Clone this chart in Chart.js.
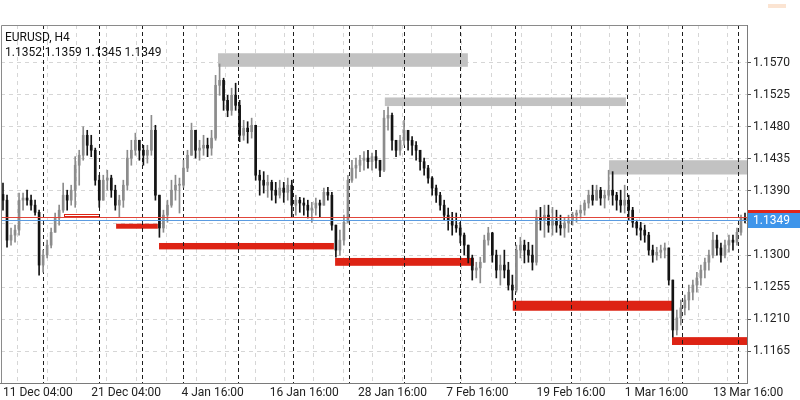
<!DOCTYPE html>
<html>
<head>
<meta charset="utf-8">
<title>EURUSD, H4</title>
<script src="https://cdn.jsdelivr.net/npm/chart.js@4.4.1/dist/chart.umd.min.js"></script>
<style>
  html, body { margin: 0; padding: 0; background: #fff; }
  #wrap { width: 800px; height: 400px; }
</style>
</head>
<body>
<div id="wrap"><canvas id="chart" width="800" height="400"></canvas></div>
<script>
var symbol = 'EURUSD, H4'

// H4 price bars (two H4 bars per entry)
var opens = [1.1385,
  1.1377, 1.1321, 1.1328, 1.1335, 1.1377, 1.1380, 1.1377, 1.1370, 1.1360, 1.1286,
  1.1300, 1.1314, 1.1332, 1.1352, 1.1363, 1.1384, 1.1377, 1.1391, 1.1426, 1.1440,
  1.1468, 1.1454, 1.1447, 1.1405, 1.1377, 1.1405, 1.1408, 1.1391, 1.1370, 1.1377,
  1.1398, 1.1436, 1.1447, 1.1461, 1.1447, 1.1440, 1.1447, 1.1475, 1.1384, 1.1338,
  1.1356, 1.1370, 1.1391, 1.1398, 1.1398, 1.1422, 1.1440, 1.1475, 1.1447, 1.1450,
  1.1454, 1.1450, 1.1464, 1.1538, 1.1545, 1.1517, 1.1503, 1.1524, 1.1510, 1.1468,
  1.1478, 1.1473, 1.1482, 1.1412, 1.1405, 1.1398, 1.1402, 1.1391, 1.1384, 1.1394,
  1.1388, 1.1398, 1.1370, 1.1377, 1.1373, 1.1370, 1.1363, 1.1366, 1.1373, 1.1370,
  1.1388, 1.1384, 1.1342, 1.1307, 1.1321, 1.1346, 1.1405, 1.1422, 1.1426, 1.1433,
  1.1436, 1.1431, 1.1438, 1.1433, 1.1419, 1.1492, 1.1496, 1.1461, 1.1447, 1.1461,
  1.1475, 1.1461, 1.1454, 1.1447, 1.1431, 1.1422, 1.1408, 1.1394, 1.1384, 1.1370,
  1.1356, 1.1349, 1.1342, 1.1338, 1.1328, 1.1314, 1.1296, 1.1279, 1.1282, 1.1290,
  1.1321, 1.1331, 1.1300, 1.1279, 1.1286, 1.1279, 1.1258, 1.1251, 1.1307, 1.1314,
  1.1307, 1.1300, 1.1290, 1.1352, 1.1349, 1.1356, 1.1342, 1.1349, 1.1342, 1.1338,
  1.1345, 1.1349, 1.1356, 1.1359, 1.1363, 1.1373, 1.1384, 1.1377, 1.1391, 1.1380,
  1.1384, 1.1391, 1.1384, 1.1377, 1.1370, 1.1377, 1.1363, 1.1346, 1.1338, 1.1335,
  1.1328, 1.1307, 1.1300, 1.1304, 1.1307, 1.1310, 1.1265, 1.1195, 1.1212, 1.1226,
  1.1237, 1.1248, 1.1258, 1.1268, 1.1279, 1.1290, 1.1300, 1.1321, 1.1310, 1.1300,
  1.1314, 1.1321, 1.1318, 1.1332, 1.1352]
var highs = [
  1.1401, 1.1384, 1.1338, 1.1342, 1.1387, 1.1387, 1.1391, 1.1384, 1.1377, 1.1363,
  1.1307, 1.1321, 1.1338, 1.1359, 1.1370, 1.1401, 1.1391, 1.1398, 1.1438, 1.1447,
  1.1480, 1.1475, 1.1468, 1.1450, 1.1412, 1.1412, 1.1419, 1.1412, 1.1398, 1.1384,
  1.1405, 1.1447, 1.1461, 1.1471, 1.1461, 1.1454, 1.1454, 1.1496, 1.1482, 1.1384,
  1.1363, 1.1377, 1.1405, 1.1412, 1.1408, 1.1433, 1.1447, 1.1485, 1.1475, 1.1461,
  1.1468, 1.1464, 1.1475, 1.1552, 1.1568, 1.1548, 1.1524, 1.1534, 1.1541, 1.1517,
  1.1489, 1.1487, 1.1492, 1.1482, 1.1419, 1.1417, 1.1412, 1.1405, 1.1402, 1.1405,
  1.1402, 1.1408, 1.1405, 1.1384, 1.1381, 1.1380, 1.1377, 1.1374, 1.1380, 1.1377,
  1.1394, 1.1395, 1.1388, 1.1342, 1.1335, 1.1356, 1.1412, 1.1433, 1.1436, 1.1440,
  1.1445, 1.1447, 1.1443, 1.1447, 1.1433, 1.1503, 1.1508, 1.1499, 1.1461, 1.1468,
  1.1489, 1.1475, 1.1466, 1.1459, 1.1443, 1.1436, 1.1426, 1.1410, 1.1398, 1.1388,
  1.1377, 1.1366, 1.1360, 1.1359, 1.1346, 1.1331, 1.1314, 1.1300, 1.1290, 1.1297,
  1.1328, 1.1339, 1.1332, 1.1307, 1.1300, 1.1307, 1.1290, 1.1272, 1.1314, 1.1325,
  1.1321, 1.1318, 1.1314, 1.1363, 1.1367, 1.1370, 1.1370, 1.1367, 1.1363, 1.1356,
  1.1352, 1.1356, 1.1360, 1.1363, 1.1370, 1.1377, 1.1391, 1.1398, 1.1398, 1.1395,
  1.1391, 1.1419, 1.1417, 1.1388, 1.1391, 1.1398, 1.1384, 1.1367, 1.1349, 1.1346,
  1.1342, 1.1332, 1.1314, 1.1311, 1.1314, 1.1317, 1.1310, 1.1265, 1.1223, 1.1237,
  1.1244, 1.1258, 1.1265, 1.1276, 1.1286, 1.1296, 1.1307, 1.1332, 1.1328, 1.1317,
  1.1321, 1.1328, 1.1328, 1.1338, 1.1356, 1.1359]
var lows = [
  1.1363, 1.1311, 1.1314, 1.1318, 1.1328, 1.1363, 1.1370, 1.1363, 1.1356, 1.1272,
  1.1276, 1.1296, 1.1310, 1.1332, 1.1342, 1.1360, 1.1363, 1.1370, 1.1367, 1.1398,
  1.1433, 1.1440, 1.1438, 1.1398, 1.1367, 1.1377, 1.1391, 1.1381, 1.1363, 1.1353,
  1.1367, 1.1391, 1.1426, 1.1440, 1.1433, 1.1426, 1.1429, 1.1440, 1.1377, 1.1325,
  1.1332, 1.1346, 1.1367, 1.1377, 1.1359, 1.1395, 1.1417, 1.1440, 1.1436, 1.1433,
  1.1440, 1.1438, 1.1440, 1.1461, 1.1524, 1.1503, 1.1494, 1.1496, 1.1503, 1.1459,
  1.1461, 1.1457, 1.1464, 1.1405, 1.1384, 1.1387, 1.1381, 1.1377, 1.1373, 1.1380,
  1.1374, 1.1377, 1.1353, 1.1356, 1.1360, 1.1356, 1.1352, 1.1346, 1.1356, 1.1353,
  1.1370, 1.1377, 1.1335, 1.1297, 1.1300, 1.1314, 1.1346, 1.1402, 1.1408, 1.1417,
  1.1419, 1.1422, 1.1419, 1.1422, 1.1410, 1.1417, 1.1475, 1.1447, 1.1438, 1.1440,
  1.1454, 1.1447, 1.1440, 1.1433, 1.1419, 1.1412, 1.1401, 1.1384, 1.1374, 1.1363,
  1.1349, 1.1335, 1.1328, 1.1332, 1.1317, 1.1300, 1.1289, 1.1265, 1.1268, 1.1261,
  1.1290, 1.1314, 1.1290, 1.1268, 1.1258, 1.1268, 1.1251, 1.1237, 1.1248, 1.1296,
  1.1289, 1.1290, 1.1279, 1.1286, 1.1335, 1.1325, 1.1332, 1.1328, 1.1332, 1.1328,
  1.1325, 1.1332, 1.1342, 1.1346, 1.1352, 1.1356, 1.1366, 1.1370, 1.1377, 1.1370,
  1.1366, 1.1377, 1.1370, 1.1363, 1.1360, 1.1359, 1.1349, 1.1339, 1.1328, 1.1321,
  1.1318, 1.1300, 1.1290, 1.1293, 1.1296, 1.1296, 1.1258, 1.1185, 1.1188, 1.1202,
  1.1216, 1.1223, 1.1237, 1.1248, 1.1258, 1.1268, 1.1279, 1.1296, 1.1300, 1.1290,
  1.1296, 1.1304, 1.1307, 1.1314, 1.1328, 1.1345]
var closes = [
  1.1377, 1.1321, 1.1328, 1.1335, 1.1377, 1.1380, 1.1377, 1.1370, 1.1360, 1.1286,
  1.1300, 1.1314, 1.1332, 1.1352, 1.1363, 1.1384, 1.1377, 1.1391, 1.1426, 1.1440,
  1.1468, 1.1454, 1.1447, 1.1405, 1.1377, 1.1405, 1.1408, 1.1391, 1.1370, 1.1377,
  1.1398, 1.1436, 1.1447, 1.1461, 1.1447, 1.1440, 1.1447, 1.1475, 1.1384, 1.1338,
  1.1356, 1.1370, 1.1391, 1.1398, 1.1398, 1.1422, 1.1440, 1.1475, 1.1447, 1.1450,
  1.1454, 1.1450, 1.1464, 1.1538, 1.1545, 1.1517, 1.1503, 1.1524, 1.1510, 1.1468,
  1.1478, 1.1473, 1.1482, 1.1412, 1.1405, 1.1398, 1.1402, 1.1391, 1.1384, 1.1394,
  1.1388, 1.1398, 1.1370, 1.1377, 1.1373, 1.1370, 1.1363, 1.1366, 1.1373, 1.1370,
  1.1388, 1.1384, 1.1342, 1.1307, 1.1321, 1.1346, 1.1405, 1.1422, 1.1426, 1.1433,
  1.1436, 1.1431, 1.1438, 1.1433, 1.1419, 1.1492, 1.1496, 1.1461, 1.1447, 1.1461,
  1.1475, 1.1461, 1.1454, 1.1447, 1.1431, 1.1422, 1.1408, 1.1394, 1.1384, 1.1370,
  1.1356, 1.1349, 1.1342, 1.1338, 1.1328, 1.1314, 1.1296, 1.1279, 1.1282, 1.1290,
  1.1321, 1.1331, 1.1300, 1.1279, 1.1286, 1.1279, 1.1258, 1.1251, 1.1307, 1.1314,
  1.1307, 1.1300, 1.1290, 1.1352, 1.1349, 1.1356, 1.1342, 1.1349, 1.1342, 1.1338,
  1.1345, 1.1349, 1.1356, 1.1359, 1.1363, 1.1373, 1.1384, 1.1377, 1.1391, 1.1380,
  1.1384, 1.1391, 1.1384, 1.1377, 1.1370, 1.1377, 1.1363, 1.1346, 1.1338, 1.1335,
  1.1328, 1.1307, 1.1300, 1.1304, 1.1307, 1.1310, 1.1265, 1.1195, 1.1212, 1.1226,
  1.1237, 1.1248, 1.1258, 1.1268, 1.1279, 1.1290, 1.1300, 1.1321, 1.1310, 1.1300,
  1.1314, 1.1321, 1.1318, 1.1332, 1.1352, 1.1349]

var bid = 1.1349
var ask = 1.1353

// time axis: labels and their bar positions, week separators (bar positions)
var timeLabels = ['11 Dec 04:00', '21 Dec 04:00', '4 Jan 16:00', '16 Jan 16:00', '28 Jan 16:00',
  '7 Feb 16:00', '19 Feb 16:00', '1 Mar 16:00', '13 Mar 16:00']
var timeLabelPos = [0, 22, 44.5, 66.5, 88.5, 110.5, 133, 155, 177]
var weekStarts = [10, 23.9, 34.7, 44.9, 58.6, 72.3, 86.3, 100, 113.9, 127.6, 141.6, 155.6, 169.3, 183.2]

var priceTicks = [1.1570, 1.1525, 1.1480, 1.1435, 1.1390, 1.1345, 1.1300, 1.1255, 1.1210, 1.1165]

// resistance (gray) and support (red) zones: bar range and price range
var resistFrom = [53.6, 95.2, 151.1]
var resistTo = [115.9, 155.3, 185.5]
var resistTop = [1.1583, 1.1521, 1.1433]
var resistBottom = [1.1564, 1.1509, 1.1413]

var supportFrom = [15.2, 28.2, 38.9, 82.8, 127.1, 166.8]
var supportTo = [23.9, 38.6, 82.5, 117.4, 166.8, 185.5]
var supportTop = [1.1358, 1.1344, 1.1317, 1.1296, 1.1236, 1.1185]
var supportBottom = [1.1355, 1.1337, 1.1308, 1.1285, 1.1222, 1.1174]
var supportHollow = [true, false, false, false, false, false]

var FONT = 'Roboto, "Noto Sans", sans-serif'

var overlay = {
    id: 'overlay',
    beforeDatasetsDraw(chart) {
        var ctx = chart.ctx, a = chart.chartArea, x = chart.scales.x, y = chart.scales.y
        ctx.save()
        ctx.beginPath()
        ctx.rect(a.left, a.top, a.right - a.left, a.bottom - a.top)
        ctx.clip()

        ctx.fillStyle = '#c2c2c2'
        for (var i = 0; i < resistFrom.length; i++) {
            var x0 = x.getPixelForValue(resistFrom[i]), x1 = x.getPixelForValue(resistTo[i])
            var y0 = y.getPixelForValue(resistTop[i]), y1 = y.getPixelForValue(resistBottom[i])
            ctx.fillRect(x0, y0, x1 - x0, y1 - y0)
        }
        for (var j = 0; j < supportFrom.length; j++) {
            var sx0 = x.getPixelForValue(supportFrom[j]), sx1 = x.getPixelForValue(supportTo[j])
            var sy0 = y.getPixelForValue(supportTop[j]), sy1 = y.getPixelForValue(supportBottom[j])
            if (supportHollow[j]) {
                ctx.strokeStyle = '#dd2314'
                ctx.lineWidth = 1
                ctx.strokeRect(Math.round(sx0) + 0.5, Math.round(sy0) + 0.5, Math.round(sx1 - sx0), Math.max(2, Math.round(sy1 - sy0)))
            } else {
                ctx.fillStyle = '#dd2314'
                ctx.fillRect(sx0, sy0, sx1 - sx0, sy1 - sy0)
            }
        }

        // week separators
        ctx.strokeStyle = '#1e1e1e'
        ctx.lineWidth = 1
        ctx.setLineDash([4, 3])
        weekStarts.forEach(function (w) {
            var px = Math.round(x.getPixelForValue(w)) + 0.5
            ctx.beginPath()
            ctx.moveTo(px, a.top)
            ctx.lineTo(px, a.bottom)
            ctx.stroke()
        })
        ctx.restore()
    },
    afterDatasetsDraw(chart) {
        var ctx = chart.ctx, a = chart.chartArea, y = chart.scales.y
        ctx.save()
        ctx.lineWidth = 1
        var ya = Math.round(y.getPixelForValue(ask)) + 0.5
        var yb = Math.round(y.getPixelForValue(bid)) + 0.5
        ctx.strokeStyle = '#e0453a'
        ctx.beginPath(); ctx.moveTo(a.left, ya); ctx.lineTo(a.right, ya); ctx.stroke()
        ctx.strokeStyle = '#5b9be0'
        ctx.beginPath(); ctx.moveTo(a.left, yb); ctx.lineTo(a.right, yb); ctx.stroke()
        ctx.restore()
    },
    afterDraw(chart) {
        var ctx = chart.ctx, a = chart.chartArea, y = chart.scales.y
        ctx.save()
        // frame top and left
        ctx.strokeStyle = '#8a8a8a'
        ctx.lineWidth = 1
        ctx.beginPath()
        ctx.moveTo(a.left + 0.5, a.bottom)
        ctx.lineTo(a.left + 0.5, a.top + 0.5)
        ctx.lineTo(a.right, a.top + 0.5)
        ctx.stroke()

        // symbol and last bar values
        var n = closes.length - 1
        ctx.fillStyle = '#111'
        ctx.font = '12px ' + FONT
        ctx.textBaseline = 'middle'
        ctx.textAlign = 'left'
        ctx.fillText(symbol, 5, 38)
        ctx.fillText([opens[n], highs[n], lows[n], closes[n]].map(function (v) { return v.toFixed(4) }).join(' '), 5, 53)

        // ask / bid price tags
        var ya = Math.round(y.getPixelForValue(ask))
        var yb = Math.round(y.getPixelForValue(bid))
        ctx.fillStyle = '#e0261b'
        ctx.fillRect(a.right + 1, ya - 7, 800 - a.right, 14)
        ctx.fillStyle = '#3f95ea'
        ctx.fillRect(a.right + 1, yb - 7, 800 - a.right, 15)
        ctx.fillStyle = '#fff'
        ctx.fillText(bid.toFixed(4), a.right + 6, yb + 1)

        // small tag at the top right
        ctx.fillStyle = '#fbe4d2'
        ctx.fillRect(768, 4, 18, 4)
        ctx.restore()
    }
}

function buildGridPos() {
    var out = []
    for (var i = 0; i < timeLabelPos.length; i++) {
        var step = i < timeLabelPos.length - 1 ? timeLabelPos[i + 1] - timeLabelPos[i] : timeLabelPos[i] - timeLabelPos[i - 1]
        out.push(timeLabelPos[i], timeLabelPos[i] + step / 3, timeLabelPos[i] + 2 * step / 3)
    }
    return out.filter(function (v) { return v <= 185.5 })
}

function loadChart() {
    var wicks = highs.map(function (h, i) { return { x: i, y: [lows[i], h] } })
    var bodies = opens.map(function (o, i) { return { x: i, y: [o, closes[i]] } })
    var colors = closes.map(function (c, i) { return c >= opens[i] ? '#8c8c8c' : '#141414' })
    var gridPos = buildGridPos()

    var ctx = document.getElementById('chart').getContext('2d')
    new Chart(ctx, {
        type: 'bar',
        data: {
            datasets: [{
                data: wicks,
                backgroundColor: colors,
                barThickness: 1,
                grouped: false,
                borderWidth: 0
            }, {
                data: bodies,
                backgroundColor: colors,
                barThickness: 2,
                minBarLength: 1,
                grouped: false,
                borderWidth: 0
            }]
        },
        options: {
            responsive: false,
            animation: false,
            devicePixelRatio: 1,
            layout: { padding: { top: 25, left: 0, right: 0, bottom: 0 } },
            plugins: { legend: { display: false }, tooltip: { enabled: false } },
            scales: {
                x: {
                    type: 'linear',
                    min: -0.5,
                    max: 185.5,
                    offset: false,
                    afterBuildTicks: function (s) { s.ticks = gridPos.map(function (v) { return { value: v } }) },
                    afterFit: function (s) { s.height = 17 },
                    ticks: {
                        autoSkip: false,
                        maxRotation: 0,
                        align: 'start',
                        padding: 3,
                        color: '#222',
                        font: { family: FONT, size: 12 },
                        callback: function (v, i) { return i % 3 === 0 ? timeLabels[i / 3] : '' }
                    },
                    grid: { color: '#d6d6d6', drawTicks: false },
                    border: { display: true, color: '#7a7a7a', dash: [4, 4] }
                },
                y: {
                    type: 'linear',
                    position: 'right',
                    min: 1.11207,
                    max: 1.16226,
                    afterBuildTicks: function (s) { s.ticks = priceTicks.map(function (v) { return { value: v } }) },
                    afterFit: function (s) { s.width = 53 },
                    ticks: {
                        padding: 2,
                        color: '#222',
                        font: { family: FONT, size: 12 },
                        callback: function (v) { return v.toFixed(4) }
                    },
                    grid: { color: '#d6d6d6', tickColor: '#555', tickLength: 4, tickBorderDash: [] },
                    border: { display: true, color: '#7a7a7a', dash: [4, 4] }
                }
            }
        },
        plugins: [overlay]
    })
}

document.addEventListener('DOMContentLoaded', function () {
    loadChart()
})
</script>
</body>
</html>
